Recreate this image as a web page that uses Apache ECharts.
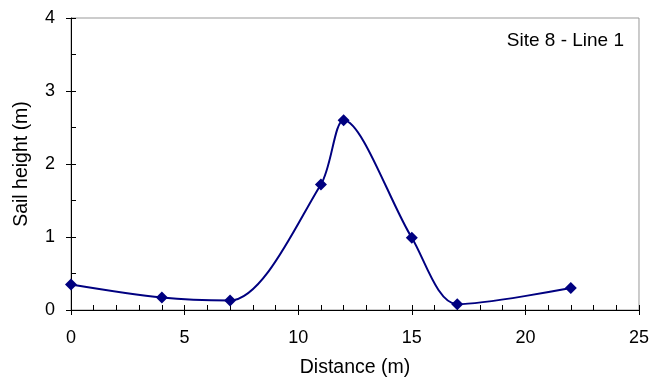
<!DOCTYPE html>
<html><head><meta charset="utf-8">
<script src="https://cdn.jsdelivr.net/npm/echarts@6/dist/echarts.min.js"></script>
<style>html,body{margin:0;padding:0;background:#fff}#c{width:652px;height:385px}</style>
</head><body><div id="c"></div>
<script>
var distance = [0, 4, 7, 11, 12, 15, 17, 22];
var sailHeight = [0.35, 0.17, 0.13, 1.72, 2.6, 0.99, 0.08, 0.3];
var chartLabel = 'Site 8 - Line 1';
var xName = 'Distance (m)';
var yName = 'Sail height (m)';

var pts = distance.map(function (d, i) { return [d, sailHeight[i]]; });
var font = 'Liberation Sans, Arial, sans-serif';
var chart = echarts.init(document.getElementById('c'), null, {renderer: 'canvas'});
chart.setOption({
  animation: false,
  grid: {left: 71, right: 12, top: 18, bottom: 75, show: true, borderColor: '#999', borderWidth: 1},
  title: {text: chartLabel, right: 28, top: 31, padding: 0, textStyle: {fontFamily: font, fontSize: 19, fontWeight: 'normal', color: '#000'}},
  xAxis: [{
    type: 'value', min: 0, max: 25, interval: 5,
    name: xName, nameLocation: 'middle', nameGap: 48,
    nameTextStyle: {fontFamily: font, fontSize: 19.5, color: '#000'},
    axisLine: {lineStyle: {color: '#000', width: 1}},
    axisTick: {inside: true, length: 5, lineStyle: {color: '#000'}},
    minorTick: {show: true, splitNumber: 5, length: 5, lineStyle: {color: '#000'}},
    axisLabel: {fontFamily: font, fontSize: 18, color: '#000', margin: 19},
    splitLine: {show: false}
  }, {
    type: 'value', min: 0, max: 25, interval: 5, position: 'bottom',
    axisLine: {show: false},
    axisTick: {inside: false, length: 5, lineStyle: {color: '#000'}},
    axisLabel: {show: false}, splitLine: {show: false}
  }],
  yAxis: [{
    type: 'value', min: 0, max: 4, interval: 1,
    name: yName, nameLocation: 'middle', nameGap: 39,
    nameTextStyle: {fontFamily: font, fontSize: 19.5, color: '#000'},
    axisLine: {show: true, lineStyle: {color: '#000', width: 1}},
    axisTick: {show: true, inside: true, length: 5, lineStyle: {color: '#000'}},
    minorTick: {show: true, splitNumber: 2, length: 5, lineStyle: {color: '#000'}},
    axisLabel: {fontFamily: font, fontSize: 18, color: '#000', margin: 16},
    splitLine: {show: false}
  }, {
    type: 'value', min: 0, max: 4, interval: 1, position: 'left',
    axisLine: {show: false},
    axisTick: {show: true, inside: false, length: 5, lineStyle: {color: '#000'}},
    axisLabel: {show: false}, splitLine: {show: false}
  }],
  series: [{
    type: 'line', data: pts, smooth: 0.3,
    symbol: 'diamond', symbolSize: 12,
    itemStyle: {color: '#000080'},
    lineStyle: {color: '#000080', width: 2}
  }]
});
</script></body></html>
